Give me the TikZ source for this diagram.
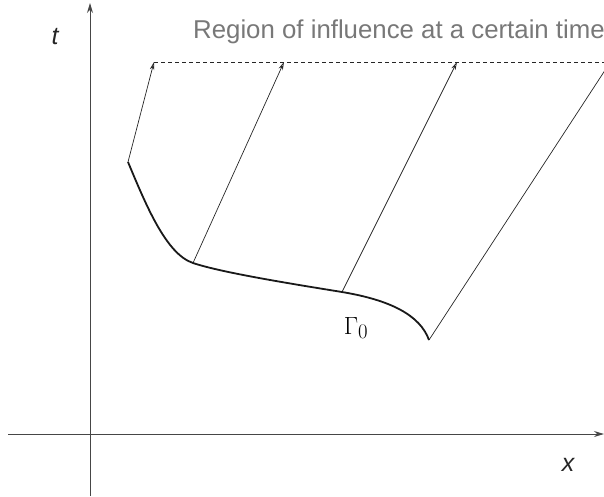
\documentclass[tikz,border=0pt]{standalone}
\usepackage{fontspec}
\setsansfont{Liberation Sans}
\usetikzlibrary{arrows.meta}
\definecolor{axisgray}{RGB}{70,70,70}
\definecolor{titlegray}{RGB}{120,120,120}
\begin{document}
\begin{tikzpicture}[x=1pt,y=-1pt,
  axis/.style={draw=axisgray,line width=1pt,-{Stealth[length=10pt,width=6pt]}},
  charline/.style={draw=black!85,line width=0.7pt},
  chararrow/.style={charline,-{Stealth[length=8pt,width=4.5pt,open]}},
  front/.style={draw=black!85,line width=0.7pt,dashed,dash pattern=on 4pt off 3pt},
  gammacurve/.style={draw=black!90,line width=1.8pt},
  lbl/.style={font=\sffamily\itshape\fontsize{25}{29}\selectfont,text=black!85,inner sep=0pt}]
\useasboundingbox (0,0) rectangle (604,496);
\clip (0,0) rectangle (604,496);
% axes
\coordinate (ybot) at (90,496);
\coordinate (ytop) at (90,3);
\coordinate (xleft) at (8,434);
\coordinate (xright) at (604,434);
\draw[axis] (ybot) -- (ytop);
\draw[axis] (xleft) -- (xright);
\node[lbl] (tl) at (55,37) {t};
\node[lbl] (xl) at (568,465) {x};
% title
\node[anchor=base west,inner sep=0pt,text=titlegray,font=\sffamily\fontsize{25.8}{30}\selectfont] (title) at (193,38) {Region of influence at a certain time};
% points on Gamma_0
\coordinate (g1) at (128,162);
\coordinate (g2) at (193,263);
\coordinate (g3) at (342,292);
\coordinate (g4) at (429,340);
% points on the front
\coordinate (f1) at (154,62);
\coordinate (f2) at (284,62);
\coordinate (f3) at (457,62);
\coordinate (f4) at (613,58);
\coordinate (fend) at (604,62);
\draw[front] (f1) -- (fend);
\draw[chararrow] (g1) -- (f1);
\draw[chararrow] (g2) -- (f2);
\draw[chararrow] (g3) -- (f3);
\draw[charline] (g4) -- (f4);
\draw[gammacurve,line join=round] (g1) .. controls (146,205) and (166,254) .. (g2)
  .. controls (220,272) and (280,282) .. (g3)
  .. controls (390,300) and (420,315) .. (g4);
\node[inner sep=0pt,font=\fontsize{30}{34}\selectfont] (gam) at (356,328) {$\Gamma_{0}$};
\end{tikzpicture}
\end{document}
